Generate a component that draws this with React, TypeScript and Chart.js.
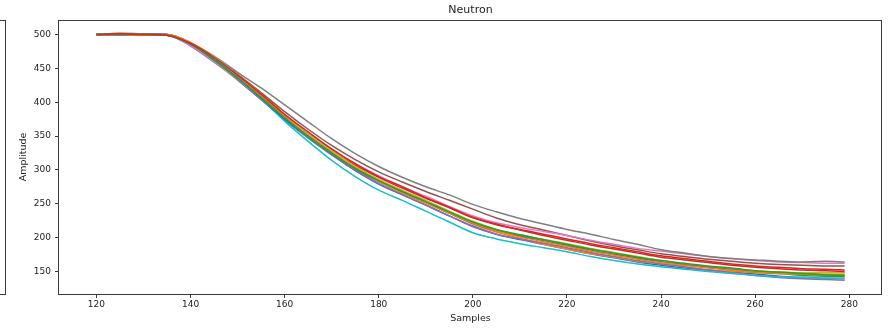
import React, { useEffect, useRef } from "react";
import { Chart, registerables } from "chart.js";

Chart.register(...registerables);

const TITLE = "Neutron";
const X_LABEL = "Samples";
const Y_LABEL = "Amplitude";
const X_TICKS = [120, 140, 160, 180, 200, 220, 240, 260, 280];
const Y_TICKS = [150, 200, 250, 300, 350, 400, 450, 500];

const SAMPLES = [120, 125, 130, 135, 140, 145, 150, 155, 160, 165, 170, 175, 180, 185, 190, 195, 200, 205, 210, 215, 220, 225, 230, 235, 240, 245, 250, 255, 260, 265, 270, 275, 279];

const S_BLUE = [500, 500, 500, 500, 487, 465, 437, 407, 375, 348, 322, 299, 279, 263, 248, 232, 217, 205, 197, 190, 183, 176, 170, 164, 159, 155, 152, 149, 146, 143, 141, 140, 139];
const S_ORANGE = [500, 500, 500, 499, 488, 467, 441, 412, 380, 352, 326, 304, 284, 268, 252, 236, 220, 208, 199, 190, 183, 176, 171, 165, 161, 157, 152, 150, 148, 147, 147, 148, 148];
const S_GREEN = [500, 500, 501, 499, 485, 461, 433, 404, 374, 347, 323, 301, 283, 267, 252, 236, 221, 211, 203, 196, 189, 181, 175, 169, 164, 160, 156, 152, 149, 147, 144, 143, 142];
const S_RED = [500, 502, 501, 500, 487, 465, 439, 410, 380, 353, 329, 307, 289, 273, 258, 244, 229, 219, 212, 205, 198, 191, 185, 179, 173, 169, 165, 161, 158, 156, 154, 153, 152];
const S_PURPLE = [500, 499, 500, 499, 483, 459, 433, 404, 374, 348, 323, 300, 280, 264, 248, 232, 216, 205, 198, 192, 185, 178, 172, 166, 161, 157, 152, 148, 144, 141, 139, 138, 137];
const S_BROWN = [500, 501, 500, 500, 487, 466, 441, 414, 386, 360, 336, 315, 297, 282, 268, 255, 242, 229, 219, 211, 203, 195, 188, 182, 176, 172, 168, 165, 162, 160, 159, 158, 158];
const S_PINK = [500, 500, 500, 499, 484, 460, 434, 407, 378, 353, 330, 309, 291, 275, 261, 246, 232, 222, 215, 209, 203, 196, 190, 184, 180, 176, 172, 169, 166, 164, 163, 162, 162];
const S_GRAY = [500, 500, 501, 500, 487, 468, 444, 421, 396, 371, 346, 324, 305, 289, 275, 263, 249, 238, 228, 220, 212, 205, 197, 190, 182, 177, 172, 169, 167, 165, 164, 165, 164];
const S_OLIVE = [500, 500, 500, 499, 488, 467, 440, 412, 381, 353, 328, 305, 286, 270, 255, 239, 224, 212, 204, 197, 191, 184, 178, 172, 166, 161, 157, 154, 151, 149, 148, 148, 148];
const S_CYAN = [501, 500, 500, 500, 488, 465, 437, 406, 372, 342, 314, 290, 270, 255, 239, 223, 207, 198, 191, 185, 179, 172, 166, 161, 157, 153, 150, 147, 144, 142, 141, 140, 140];
const S_BLUE2 = [500, 500, 500, 499, 486, 463, 436, 406, 375, 349, 324, 302, 283, 267, 252, 237, 221, 210, 202, 195, 188, 181, 175, 170, 164, 160, 156, 153, 150, 148, 146, 145, 144];
const S_ORANGE2 = [500, 500, 499, 500, 488, 466, 439, 410, 378, 350, 325, 303, 283, 266, 251, 236, 221, 210, 201, 194, 187, 180, 174, 168, 163, 159, 155, 152, 149, 147, 146, 145, 145];
const S_GREEN2 = [500, 500, 500, 499, 486, 462, 435, 407, 377, 350, 325, 302, 284, 268, 253, 238, 223, 212, 204, 197, 190, 183, 177, 171, 166, 162, 158, 155, 151, 149, 147, 145, 144];
const S_RED2 = [500, 501, 500, 499, 487, 466, 440, 412, 382, 356, 331, 309, 290, 275, 259, 245, 230, 220, 211, 203, 196, 189, 183, 177, 171, 167, 163, 159, 156, 154, 152, 151, 150];

const SERIES = [S_BLUE, S_ORANGE, S_GREEN, S_RED, S_PURPLE, S_BROWN, S_PINK, S_GRAY, S_OLIVE, S_CYAN, S_BLUE2, S_ORANGE2, S_GREEN2, S_RED2];
const COLORS = ["#1f77b4", "#ff7f0e", "#2ca02c", "#d62728", "#9467bd", "#8c564b", "#e377c2", "#7f7f7f", "#bcbd22", "#17becf"];

const FONT = "'DejaVu Sans', sans-serif";

export default function App() {
  const ref = useRef<HTMLCanvasElement | null>(null);

  useEffect(() => {
    if (!ref.current) return;
    const framePlugin = {
      id: "frame",
      afterDraw(chart: any) {
        const { ctx, chartArea } = chart;
        ctx.save();
        ctx.strokeStyle = "#3a3a3a";
        ctx.lineWidth = 1;
        ctx.strokeRect(
          Math.round(chartArea.left) - 0.5,
          Math.round(chartArea.top) + 0.5,
          Math.round(chartArea.right - chartArea.left),
          Math.round(chartArea.bottom - chartArea.top)
        );
        ctx.fillStyle = "#222";
        ctx.font = `11px ${FONT}`;
        ctx.textAlign = "center";
        ctx.textBaseline = "middle";
        ctx.fillText(TITLE, (chartArea.left + chartArea.right) / 2, 10);
        ctx.restore();
      },
    };

    const chart = new Chart(ref.current, {
      type: "line",
      data: {
        datasets: SERIES.map((s, i) => ({
          label: `s${i}`,
          data: SAMPLES.map((x, j) => ({ x, y: s[j] })),
          borderColor: COLORS[i % COLORS.length],
          backgroundColor: COLORS[i % COLORS.length],
          borderWidth: 1.5,
          pointRadius: 0,
          cubicInterpolationMode: "monotone",
          fill: false,
          order: SERIES.length - i,
        })),
      },
      options: {
        responsive: false,
        animation: false,
        layout: { padding: { left: 0, top: 20, right: 7, bottom: 0 } },
        plugins: {
          legend: { display: false },
          title: { display: false },
          tooltip: { enabled: false },
        },
        scales: {
          x: {
            type: "linear",
            min: 112.05,
            max: 286.95,
            afterBuildTicks: (axis: any) => {
              axis.ticks = X_TICKS.map((v) => ({ value: v }));
            },
            afterFit: (axis: any) => {
              axis.height = 35;
            },
            border: { display: false },
            grid: {
              display: true,
              drawOnChartArea: false,
              drawTicks: true,
              tickLength: 4,
              color: "#3a3a3a",
            },
            ticks: {
              color: "#222",
              font: { family: FONT, size: 9 },
              padding: 1,
              maxRotation: 0,
              autoSkip: false,
              callback: (v: any) => String(v),
            },
            title: {
              display: true,
              text: X_LABEL,
              color: "#222",
              font: { family: FONT, size: 9.5 },
              padding: { top: 0, bottom: 5 },
            },
          },
          y: {
            type: "linear",
            min: 116.6,
            max: 521.4,
            afterBuildTicks: (axis: any) => {
              axis.ticks = Y_TICKS.map((v) => ({ value: v }));
            },
            afterFit: (axis: any) => {
              axis.width = 59;
            },
            border: { display: false },
            grid: {
              display: true,
              drawOnChartArea: false,
              drawTicks: true,
              tickLength: 4,
              color: "#3a3a3a",
            },
            ticks: {
              color: "#222",
              font: { family: FONT, size: 9 },
              padding: 4,
              autoSkip: false,
              callback: (v: any) => String(v),
            },
            title: {
              display: true,
              text: Y_LABEL,
              color: "#222",
              font: { family: FONT, size: 9.5 },
              padding: { top: 18, bottom: 0 },
            },
          },
        },
      },
      plugins: [framePlugin],
    });
    return () => chart.destroy();
  }, []);

  return (
    <div style={{ position: "fixed", left: 0, top: 0, width: 889, height: 329, background: "#fff", overflow: "hidden" }}>
      <div
        style={{
          position: "absolute",
          left: -2,
          top: 20,
          width: 6,
          height: 273,
          border: "1px solid #3a3a3a",
        }}
      />
      <canvas ref={ref} width={889} height={329} style={{ position: "absolute", left: 0, top: 0, width: 889, height: 329 }} />
    </div>
  );
}
